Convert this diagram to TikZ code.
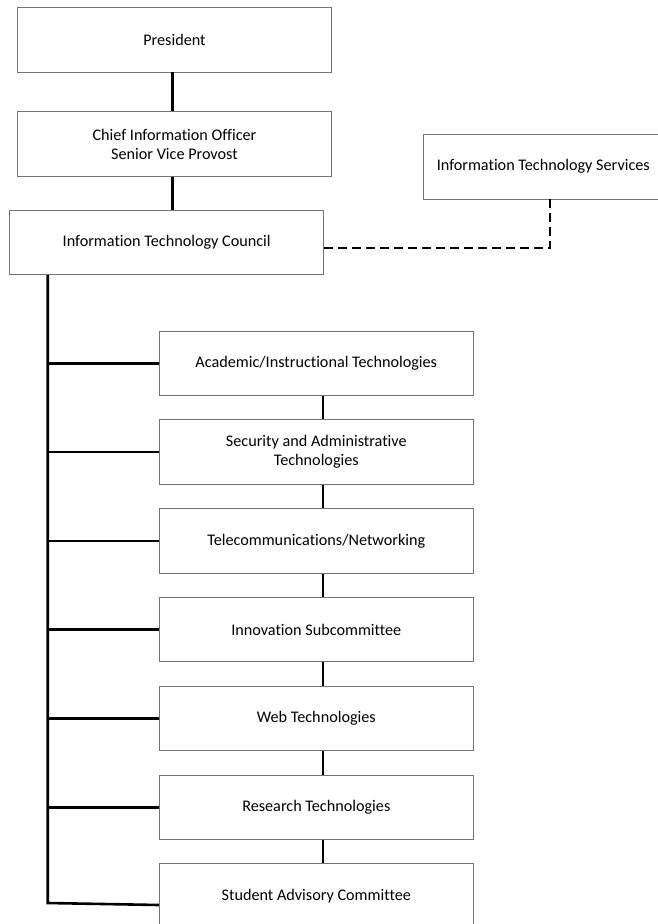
\documentclass[tikz,border=0pt]{standalone}
\usepackage{fontspec}
\setmainfont[Ligatures=NoCommon]{Carlito}
\usetikzlibrary{positioning}

\tikzset{
  unit/.style={draw=black!55, line width=0.9pt, fill=white, align=center,
    minimum width=314pt, minimum height=64.5pt,
    font=\fontsize{16.2}{19.3}\selectfont},
  link/.style={line width=2.6pt},
  dotlink/.style={line width=2.6pt, dash pattern=on 9pt off 5pt}
}

\begin{document}
\begin{tikzpicture}[x=1pt, y=-1pt, node distance=23.4pt]
  \useasboundingbox (0,0) rectangle (657,924);

  % top of the chart
  \node[unit] (pres) at (174.5,39.7) {President};
  \node[unit] (cio) [below=39pt of pres] {Chief Information Officer\\Senior Vice Provost};
  \node[unit] (itc) at (166.7,242.5) {Information Technology Council};
  \node[unit, minimum width=240pt] (its) at (543.3,166.7) {Information Technology Services};

  % committees
  \node[unit] (acad) at (316.3,363.2) {Academic/Instructional Technologies};
  \node[unit] (secur) [below=of acad] {Security and Administrative\\Technologies};
  \node[unit] (telecom) [below=of secur] {Telecommunications/Networking};
  \node[unit] (innov) [below=of telecom] {Innovation Subcommittee};
  \node[unit] (web) [below=of innov] {Web Technologies};
  \node[unit] (research) [below=of web] {Research Technologies};
  \node[unit] (student) [below=of research] {Student Advisory Committee};

  \coordinate (topcol) at (172.2,0);
  \coordinate (col) at (323,0);
  \coordinate (spine) at (47.7,903);
  \coordinate (bend) at (550,248);

  \draw[link] (topcol |- pres.south) -- (topcol |- cio.north);
  \draw[link] (topcol |- cio.south) -- (topcol |- itc.north);
  \draw[dotlink] (itc.east |- bend) -- (bend) -- (bend |- its.south);

  \draw[link] (spine |- itc.south) -- (spine) -- ([yshift=-9pt]student.west);
  \foreach \n in {acad,secur,telecom,innov,web,research}
    \draw[link] (spine |- \n.west) -- (\n.west);
  \foreach \a/\b in {acad/secur,secur/telecom,telecom/innov,innov/web,web/research,research/student}
    \draw[link] (col |- \a.south) -- (col |- \b.north);
\end{tikzpicture}
\end{document}
